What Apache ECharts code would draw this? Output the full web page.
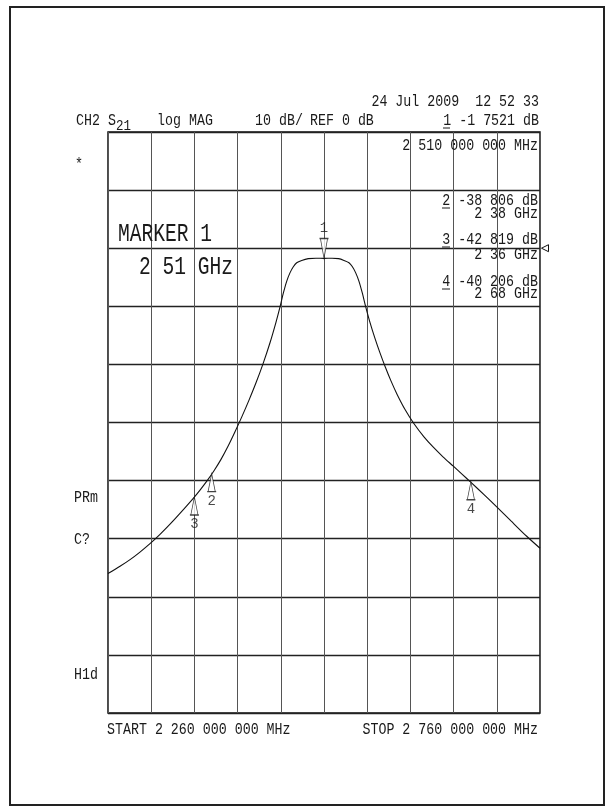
<!DOCTYPE html>
<html>
<head>
<meta charset="utf-8">
<script src="https://cdn.jsdelivr.net/npm/echarts@6/dist/echarts.min.js"></script>
<style>
  html, body { margin: 0; padding: 0; background: #fff; }
  #chart { width: 607px; height: 812px; }
</style>
</head>
<body>
<div id="chart"></div>
<script>
// ---- Data ----
const START_GHZ = 2.26;
const STOP_GHZ = 2.76;
const STEP_GHZ = 0.05;
const REF_DB = 0;
const DB_PER_DIV = 10;
const DB_TOP = 20;
const DB_BOTTOM = -80;

const freqGHz = [
  2.2600, 2.2739, 2.2855, 2.2970, 2.3086, 2.3202, 2.3318, 2.3433, 2.3587, 2.3665,
  2.3746, 2.3827, 2.3908, 2.3989, 2.4070, 2.4151, 2.4232, 2.4313, 2.4394, 2.4475,
  2.4544, 2.4591, 2.4629, 2.4668, 2.4706, 2.4745, 2.4784, 2.4842, 2.4918, 2.5007,
  2.5100, 2.5193, 2.5268, 2.5331, 2.5389, 2.5429, 2.5467, 2.5505, 2.5544, 2.5583,
  2.5632, 2.5690, 2.5748, 2.5806, 2.5875, 2.5945, 2.6038, 2.6142, 2.6257, 2.6365,
  2.6477, 2.6597, 2.6697, 2.6801, 2.6952, 2.7099, 2.7264, 2.7446, 2.7600
];
const s21dB = [
  -56.0, -54.75, -53.6, -52.3, -50.85, -49.25, -47.5, -45.64, -43.05, -41.63,
  -40.05, -38.3, -36.35, -34.1, -31.6, -28.95, -26.15, -23.17, -19.9, -16.27,
  -12.75, -10.1, -7.75, -5.7, -4.25, -3.2, -2.5, -2.1, -1.8, -1.72,
  -1.75, -1.72, -1.8, -2.1, -2.5, -3.2, -4.25, -5.7, -7.75, -10.1,
  -12.77, -15.52, -18.02, -20.32, -22.84, -25.12, -27.76, -30.21, -32.46, -34.25,
  -35.9, -37.52, -38.88, -40.31, -42.41, -44.51, -46.94, -49.58, -51.64
];

const markerIds = ['1', '2', '3', '4'];
const markerFreqGHz = [2.51, 2.38, 2.36, 2.68];
const markerDB = [-1.7521, -38.806, -42.819, -40.206];

const headerDate = '24 Jul 2009  12 52 33';
const stimulusText = '2 510 000 000 MHz';
const startText = 'START 2 260 000 000 MHz';
const stopText = 'STOP 2 760 000 000 MHz';
const readouts = [
  ['2', '-38 806 dB', '2 38 GHz'],
  ['3', '-42 819 dB', '2 36 GHz'],
  ['4', '-40 206 dB', '2 68 GHz']
];

// ---- Chart ----
const FONT = 'Liberation Mono';
const INK = '#1a1a1a';
const chart = echarts.init(document.getElementById('chart'), null, { renderer: 'canvas' });

function txt(x, y, text, size, opt) {
  opt = opt || {};
  return {
    type: 'text', x: x, y: y, scaleY: opt.sy || 1.2, z: 100,
    style: {
      text: text, fill: INK,
      font: (size || 13.3) + 'px "' + FONT + '"',
      textAlign: opt.align || 'left', textVerticalAlign: 'middle'
    }
  };
}
function uline(x1, x2, y) {
  return { type: 'line', z: 100, shape: { x1: x1, y1: y, x2: x2, y2: y }, style: { stroke: INK, lineWidth: 1 } };
}

const graphics = [
  { type: 'rect', shape: { x: 10, y: 7, width: 594, height: 798 }, style: { fill: 'none', stroke: '#222', lineWidth: 2 } },
  txt(539, 102, headerDate, 13.3, { align: 'right' }),
  txt(76, 121, 'CH2 S', 13.3),
  txt(116, 126, '21', 12.5),
  txt(157, 121, 'log MAG', 13.3),
  txt(255, 121, '10 dB/', 13.3),
  txt(310, 121, 'REF 0 dB', 13.3),
  txt(539, 121, '1 -1 7521 dB', 13.3, { align: 'right' }),
  uline(443, 450, 128),
  txt(75, 165, '*', 13.3),
  txt(538, 146, stimulusText, 13.3, { align: 'right' }),
  txt(118, 234, 'MARKER 1', 19.6, { sy: 1.3 }),
  txt(139, 267, '2 51 GHz', 19.6, { sy: 1.3 }),
  txt(74, 498, 'PRm', 13.3),
  txt(74, 540, 'C?', 13.3),
  txt(74, 675, 'H1d', 13.3),
  txt(107, 730, startText, 13.3),
  txt(538, 730, stopText, 13.3, { align: 'right' })
];
const readY = [[201, 214], [240, 255], [282, 294]];
readouts.forEach(function (r, i) {
  graphics.push(txt(538, readY[i][0], r[0] + ' ' + r[1], 13.3, { align: 'right' }));
  graphics.push(uline(442, 450, readY[i][0] + 7));
  graphics.push(txt(538, readY[i][1], r[2], 13.3, { align: 'right' }));
});

const traceData = freqGHz.map(function (f, i) { return [f, s21dB[i]]; });
const upMarkers = [];
const downMarkers = [];
markerIds.forEach(function (id, i) {
  const p = { value: [markerFreqGHz[i], markerDB[i]], name: id };
  if (i === 0) downMarkers.push(p); else upMarkers.push(p);
});

const markerLabel = {
  show: true, formatter: '{b}', color: INK,
  fontFamily: FONT, fontSize: 14, distance: 2
};

chart.setOption({
  animation: false,
  backgroundColor: '#fff',
  graphic: graphics,
  grid: {
    left: 108, top: 132, width: 432, height: 581,
    show: true, borderColor: '#111', borderWidth: 1.5, backgroundColor: 'transparent'
  },
  xAxis: {
    type: 'value', min: START_GHZ, max: STOP_GHZ, interval: STEP_GHZ,
    axisLine: { show: false }, axisTick: { show: false }, axisLabel: { show: false },
    splitLine: { show: true, lineStyle: { color: '#555', width: 1 } }
  },
  yAxis: {
    type: 'value', min: DB_BOTTOM, max: DB_TOP, interval: DB_PER_DIV,
    axisLine: { show: false }, axisTick: { show: false }, axisLabel: { show: false },
    splitLine: { show: true, lineStyle: { color: '#222', width: 1.3 } }
  },
  series: [
    {
      type: 'line', data: traceData, showSymbol: false, smooth: 0.3,
      lineStyle: { color: '#111', width: 1.1 }, z: 5,
      markPoint: {
        silent: true,
        symbol: 'path://M10,0 L0,5 L10,10 Z', symbolSize: [7, 7], symbolOffset: [5, 0],
        itemStyle: { color: '#fff', borderColor: '#111', borderWidth: 1 },
        label: { show: false },
        data: [{ coord: [STOP_GHZ, REF_DB] }]
      }
    },
    {
      type: 'scatter', data: upMarkers, z: 10,
      symbol: 'path://M5,0 L9,30 L1,30 Z M0,30 L10,30', symbolSize: [9, 18], symbolOffset: [0, 9],
      itemStyle: { color: '#fff', borderColor: '#111', borderWidth: 1 },
      label: Object.assign({ position: 'bottom' }, markerLabel)
    },
    {
      type: 'scatter', data: downMarkers, z: 10,
      symbol: 'path://M1,0 L9,0 L5,30 Z M0,0 L10,0', symbolSize: [9, 20], symbolOffset: [0, -10],
      itemStyle: { color: '#fff', borderColor: '#111', borderWidth: 1 },
      label: Object.assign({ position: 'top' }, markerLabel)
    }
  ]
});
</script>
</body>
</html>
